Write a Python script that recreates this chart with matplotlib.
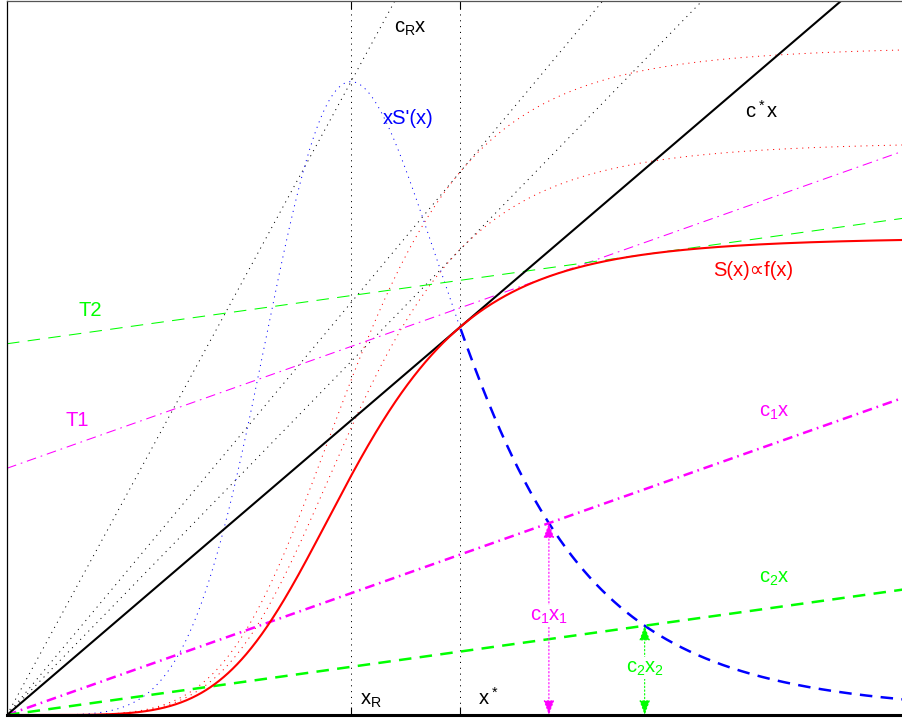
import matplotlib
matplotlib.use("Agg")
import matplotlib.pyplot as plt
import numpy as np

# schematic: S(x) is a Hill-type sigmoid, the other curves are built from it
S_MAX = 4.78        # saturation level of S(x)
K_HALF = 3.44       # half-saturation point
HILL_N = 5.3        # steepness
DOTTED_SCALES = [1.2, 1.4]   # scaled copies a*S(x) and their tangents a*c*x
C1 = 0.354          # slope of c1 x
C2 = 0.14           # slope of c2 x
X_MAX = 8.96
Y_MAX = 7.14

plt.rcParams['font.family'] = ['Liberation Sans', 'DejaVu Sans']
plt.rcParams['mathtext.fontset'] = 'custom'
plt.rcParams['mathtext.rm'] = 'Liberation Sans'
plt.rcParams['mathtext.it'] = 'Liberation Sans'
plt.rcParams['lines.scale_dashes'] = False


def S(x):
    return S_MAX * x**HILL_N / (K_HALF**HILL_N + x**HILL_N)


def dS(x):
    return HILL_N * S(x) * (1 - S(x) / S_MAX) / np.maximum(x, 1e-9)


x = np.linspace(0, X_MAX, 1200)
x_star = K_HALF * (HILL_N - 1) ** (1 / HILL_N)
c_star = S(x_star) / x_star
x_R = K_HALF
c_R = dS(x_R)


def solve_slope(c):
    xs = np.linspace(x_star, X_MAX, 20000)
    return xs[np.argmin(np.abs(dS(xs) - c))]


x1 = solve_slope(C1)
x2 = solve_slope(C2)

DOT = (0, (0.8, 3.4))
DASH = (0, (9, 6))
DASHDOT = (0, (7, 3.5, 1.2, 3.5))

fig = plt.figure(figsize=(9.03, 7.19), dpi=100)
ax = fig.add_axes([7 / 903, 4 / 719, 896 / 903, 714 / 719])

# dotted helpers
ax.plot(x, c_R * x, color='k', lw=0.7, ls=DOT)
for a in DOTTED_SCALES:
    ax.plot(x, a * S(x), color='r', lw=0.7, ls=DOT)
    ax.plot(x, a * c_star * x, color='k', lw=0.7, ls=DOT)

xl = x[x <= x_star]
xr = x[x >= x_star]
ax.plot(xl, xl * dS(xl), color='b', lw=0.7, ls=DOT)
ax.plot(xr, xr * dS(xr), color='b', lw=1.8, ls=DASH)

# tangents T1, T2
ax.plot(x, S(x1) + C1 * (x - x1), color='#ff00ff', lw=0.75, ls=DASHDOT)
ax.plot(x, S(x2) + C2 * (x - x2), color='#00ff00', lw=0.75, ls=DASH)

# rays
ax.plot(x, C1 * x, color='#ff00ff', lw=1.8, ls=DASHDOT)
ax.plot(x, C2 * x, color='#00ff00', lw=1.8, ls=DASH)
ax.plot(x, c_star * x, color='k', lw=1.5)
ax.plot(x, S(x), color='r', lw=1.5)

# arrows c1x1, c2x2
for xi, ci, col in [(x1, C1, '#ff00ff'), (x2, C2, '#00ff00')]:
    ax.annotate('', xy=(xi, ci * xi), xytext=(xi, 0),
                arrowprops=dict(arrowstyle='<|-|>,head_length=0.9,head_width=0.33',
                                color=col, lw=0.8, ls=':', shrinkA=0, shrinkB=0,
                                mutation_scale=10))

fs = 14.5
box = dict(facecolor='white', edgecolor='none', pad=1)
ax.text(3.87, 6.87, r'$c_Rx$', fontsize=fs, ha='left', va='center')
ax.text(3.76, 5.965, "xS'(x)", fontsize=fs, color='b', ha='left', va='center')
ax.text(7.38, 6.045, r'$c^*x$', fontsize=fs, ha='left', va='center')
ax.text(7.06, 4.45, 'S(x)\u221df(x)', fontsize=fs, color='r', ha='left', va='center')
ax.text(0.835, 4.05, 'T2', fontsize=fs, color='#00ff00', ha='center', va='center')
ax.text(0.705, 2.945, 'T1', fontsize=fs, color='#ff00ff', ha='center', va='center')
ax.text(7.52, 3.03, r'$c_1x$', fontsize=fs, color='#ff00ff', ha='left', va='center')
ax.text(7.52, 1.37, r'$c_2x$', fontsize=fs, color='#00ff00', ha='left', va='center')
ax.text(x1, 0.99, r'$c_1x_1$', fontsize=fs, color='#ff00ff', ha='center', va='center', bbox=box)
ax.text(x2, 0.47, r'$c_2x_2$', fontsize=fs, color='#00ff00', ha='center', va='center', bbox=box)
ax.text(3.53, 0.145, r'$x_R$', fontsize=fs, ha='left', va='center')
ax.text(4.71, 0.17, r'$x^*$', fontsize=fs, ha='left', va='center')

ax.set_xlim(0, X_MAX)
ax.set_ylim(0, Y_MAX)
ax.set_xticks([x_R, x_star])
ax.set_xticklabels(['', ''])
ax.set_yticks([])
ax.tick_params(axis='x', direction='in', length=6, width=0.8, top=True, bottom=True)
ax.grid(True, axis='x', color='k', lw=0.7, ls=DOT)
ax.spines['right'].set_visible(False)
ax.spines['bottom'].set_linewidth(2.2)
ax.spines['left'].set_linewidth(0.9)
ax.spines['top'].set_linewidth(0.9)
ax.spines['top'].set_color('#555555')

fig.savefig('out.png', dpi=100)
